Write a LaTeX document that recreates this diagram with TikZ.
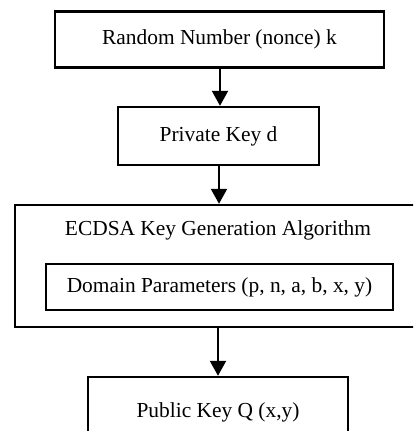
\documentclass[tikz,border=0pt]{standalone}
\usepackage{fontspec}
\setmainfont{Liberation Serif}
\usetikzlibrary{arrows.meta}
\begin{document}
\begin{tikzpicture}[x=1pt,y=1pt,
  box/.style={draw=black,line width=2.4pt,inner sep=0pt,font=\fontsize{21.4}{24}\selectfont},
  arr/.style={line width=2.2pt,-{Triangle[width=16pt,length=15pt]}},
  lbl/.style={inner sep=0pt,font=\fontsize{21.4}{24}\selectfont}]
\useasboundingbox (0,0) rectangle (413,-431);
\clip (0,0) rectangle (413,-431);
\fill[white] (0,0) rectangle (413,-431);
\node[box,minimum width=329pt,minimum height=56pt] (rnd) at (219.5,-39.5) {Random Number (nonce) k};
\node[box,minimum width=201pt,minimum height=58pt] (priv) at (218.5,-136) {Private Key d};
\node[box,minimum width=406pt,minimum height=122pt] (alg) at (218,-266) {};
\node[lbl] (title) at (218,-230) {ECDSA Key Generation Algorithm};
\node[box,minimum width=347pt,minimum height=46pt] (dom) at (219.5,-287) {Domain Parameters (p, n, a, b, x, y)};
\node[box,minimum width=260pt,minimum height=56pt] (pub) at (218,-405) {};
\node[lbl] (publbl) at (218,-412) {Public Key Q (x,y)};
\coordinate (a1) at (220,-67);
\draw[arr] (a1) -- (a1 |- priv.north);
\coordinate (a2) at (219,-165);
\draw[arr] (a2) -- (a2 |- alg.north);
\draw[arr] (alg.south) -- (pub.north);
\end{tikzpicture}
\end{document}
